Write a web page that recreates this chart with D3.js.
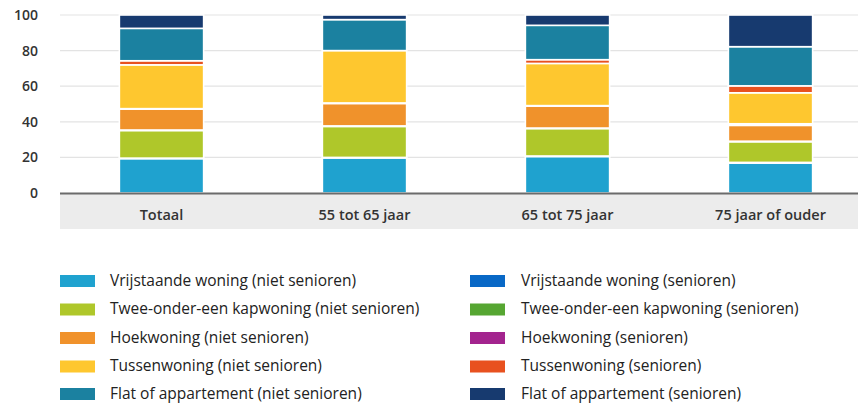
<!DOCTYPE html>
<html>
<head>
<meta charset="utf-8">
<script src="https://cdn.jsdelivr.net/npm/d3@7"></script>
<style>
  html, body { margin: 0; padding: 0; background: #fff; }
  svg { display: block; font-family: "Open Sans", "Noto Sans", sans-serif; }
</style>
</head>
<body>
<svg id="chart" width="858" height="404"></svg>
<script>
const categories = ["Totaal", "55 tot 65 jaar", "65 tot 75 jaar", "75 jaar of ouder"];
const seriesNames = [
  "Vrijstaande woning (niet senioren)",
  "Vrijstaande woning (senioren)",
  "Twee-onder-een kapwoning (niet senioren)",
  "Twee-onder-een kapwoning (senioren)",
  "Hoekwoning (niet senioren)",
  "Hoekwoning (senioren)",
  "Tussenwoning (niet senioren)",
  "Tussenwoning (senioren)",
  "Flat of appartement (niet senioren)",
  "Flat of appartement (senioren)"
];
const colors = ["#1fa2cf", "#0868c6", "#afc72a", "#56a632", "#f0922b", "#a3248e", "#fec72f", "#e8511f", "#1b81a0", "#173a6f"];
// values per series, in category order (percent)
const vrijstaandeNiet = [19.3, 19.7, 20.5, 16.8];
const vrijstaandeSen  = [0.3, 0.3, 0.3, 0.4];
const tweeOnderNiet   = [15.5, 17.4, 15.4, 11.6];
const tweeOnderSen    = [0.3, 0.3, 0.3, 0.3];
const hoekNiet        = [11.7, 12.6, 12.3, 8.9];
const hoekSen         = [0.3, 0.3, 0.3, 0.9];
const tussenNiet      = [24.6, 29.4, 23.7, 17.4];
const tussenSen       = [2.3, 0.0, 2.1, 3.9];
const flatNiet        = [18.2, 17.4, 19.3, 22.0];
const flatSen         = [7.5, 2.6, 5.8, 17.8];
const yTicks = [0, 20, 40, 60, 80, 100];

const seriesValues = [vrijstaandeNiet, vrijstaandeSen, tweeOnderNiet, tweeOnderSen, hoekNiet, hoekSen, tussenNiet, tussenSen, flatNiet, flatSen];

const table = categories.map((c, i) => {
  const row = { cat: c };
  seriesNames.forEach((s, j) => row[s] = seriesValues[j][i]);
  return row;
});

const svg = d3.select("#chart");
const plotLeft = 60, plotRight = 858;
const x = d3.scaleBand().domain(categories).range([60, 872]).paddingInner(0.585).paddingOuter(0.2925);
const y = d3.scaleLinear().domain([0, 100]).range([193, 15]);

// grey band below axis
svg.append("rect").attr("x", plotLeft).attr("y", 193).attr("width", plotRight - plotLeft).attr("height", 36).attr("fill", "#ececec");

// gridlines
svg.append("g").selectAll("line").data(yTicks.filter(d => d > 0)).join("line")
  .attr("x1", plotLeft).attr("x2", plotRight)
  .attr("y1", d => y(d)).attr("y2", d => y(d))
  .attr("stroke", "#e3e3e3").attr("stroke-width", 1.2);

// y axis labels
const yAxis = d3.axisLeft(y).tickValues(yTicks).tickSize(0).tickPadding(0);
const gy = svg.append("g").attr("transform", "translate(38,0)").call(yAxis);
gy.select(".domain").remove();
gy.selectAll("text").attr("font-size", 14).attr("font-weight", 600).attr("fill", "#333").attr("font-family", "Open Sans, sans-serif");

// stacked bars
const stack = d3.stack().keys(seriesNames);
const stacked = stack(table);
svg.append("g").selectAll("g").data(stacked).join("g")
  .attr("fill", (d, i) => colors[i])
  .selectAll("rect").data(d => d).join("rect")
  .attr("x", d => x(d.data.cat))
  .attr("width", x.bandwidth())
  .attr("y", d => y(d[1]))
  .attr("height", d => Math.max(0, y(d[0]) - y(d[1])))
  .attr("stroke", "#fff").attr("stroke-width", 1.6);

// baseline
svg.append("line").attr("x1", plotLeft).attr("x2", plotRight).attr("y1", 193.5).attr("y2", 193.5)
  .attr("stroke", "#6b6b6b").attr("stroke-width", 2);

// category labels
const xAxis = d3.axisBottom(x).tickSize(0).tickPadding(0);
const gx = svg.append("g").attr("transform", "translate(0,220)").call(xAxis);
gx.select(".domain").remove();
gx.selectAll("text").attr("font-size", 14.5).attr("font-weight", 600).attr("fill", "#333").attr("dy", 0).attr("font-family", "Open Sans, sans-serif");

// legend
const legendCols = [{ sx: 60, tx: 110 }, { sx: 470, tx: 521 }];
const rowY = [281, 309.5, 338, 366.5, 394];
const legend = svg.append("g");
seriesNames.forEach((s, i) => {
  const col = legendCols[i % 2];
  const r = Math.floor(i / 2);
  const g = legend.append("g");
  g.append("rect").attr("x", col.sx).attr("y", rowY[r] - 6).attr("width", 35).attr("height", 12).attr("fill", colors[i]);
  g.append("text").attr("x", col.tx).attr("y", rowY[r]).attr("dy", "0.32em")
    .attr("font-size", 15.5).attr("fill", "#222").text(s);
});
</script>
</body>
</html>
